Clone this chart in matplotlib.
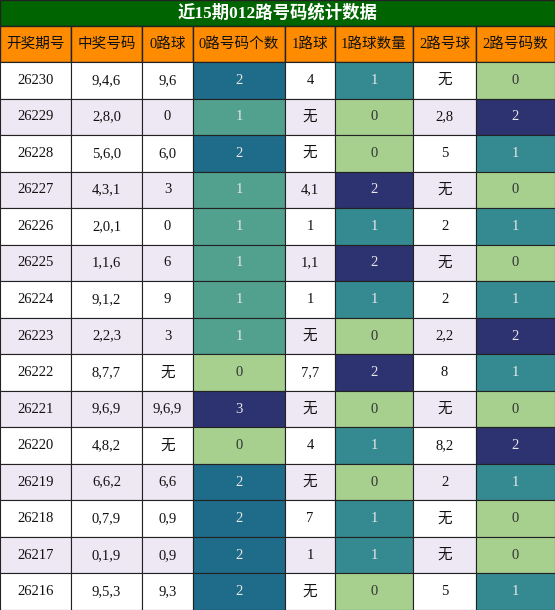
import matplotlib
matplotlib.use("Agg")
import matplotlib.pyplot as plt
from matplotlib.colors import LinearSegmentedColormap
from matplotlib.patches import Rectangle

plt.rcParams['font.family'] = ['Noto Sans CJK SC', 'DejaVu Sans']

title = "近15期012路号码统计数据"
headers = ["开奖期号", "中奖号码", "0路球", "0路号码个数", "1路球", "1路球数量", "2路号球", "2路号码数"]
issues = ["26230","26229","26228","26227","26226","26225","26224","26223","26222","26221","26220","26219","26218","26217","26216"]
numbers = ["9,4,6","2,8,0","5,6,0","4,3,1","2,0,1","1,1,6","9,1,2","2,2,3","8,7,7","9,6,9","4,8,2","6,6,2","0,7,9","0,1,9","9,5,3"]
road0 = ["9,6","0","6,0","3","0","6","9","3","无","9,6,9","无","6,6","0,9","0,9","9,3"]
count0 = [2,1,2,1,1,1,1,1,0,3,0,2,2,2,2]
road1 = ["4","无","无","4,1","1","1,1","1","无","7,7","无","4","无","7","1","无"]
count1 = [1,0,0,2,1,2,1,0,2,0,1,0,1,1,0]
road2 = ["无","2,8","5","无","2","无","2","2,2","8","无","8,2","2","无","无","5"]
count2 = [0,2,1,0,1,0,1,2,1,0,2,1,0,0,1]

W, H = 555, 610
fig = plt.figure(figsize=(W/100, H/100), dpi=100)
ax = fig.add_axes([0, 0, 1, 1])
ax.set_xlim(0, W); ax.set_ylim(H, 0); ax.axis('off')

cmap = LinearSegmentedColormap.from_list("c", [(0, "#A7D08F"), (0.333, "#52A08E"), (0.5, "#348A90"), (0.667, "#1F6B8A"), (1, "#2D3270")])
xs = [0, 71, 142, 193, 285, 335, 413, 476, 555]
title_h, head_h = 26, 36
top = title_h + head_h
rh = (H - top) / 15
lc = "#222222"

ax.add_patch(Rectangle((0, 0), W, title_h, facecolor="#006400", edgecolor=lc, lw=1))
ax.text(W/2, title_h/2, title, color="white", ha="center", va="center", fontsize=12.5, fontweight="bold",
        family=['Liberation Serif', 'Noto Sans CJK SC'])
for j, h in enumerate(headers):
    ax.add_patch(Rectangle((xs[j], title_h), xs[j+1]-xs[j], head_h, facecolor="#FF8C00", edgecolor=lc, lw=1))
    ax.text((xs[j]+xs[j+1])/2, title_h+head_h/2, h, ha="center", va="center", fontsize=10.5, color="#111111",
            family=['Liberation Serif', 'Noto Sans CJK SC'])

cols = [issues, numbers, road0, count0, road1, count1, road2, count2]
for i in range(15):
    y = top + i*rh
    bg = "white" if i % 2 == 0 else "#EEE8F5"
    for j, col in enumerate(cols):
        v = col[i]
        fc, tc = bg, "#111111"
        if j in (3, 5, 7):
            mx = max(col)
            fc = cmap(v/mx)
            tc = "#333333" if v == 0 else "#E8E8E8"
        ax.add_patch(Rectangle((xs[j], y), xs[j+1]-xs[j], rh, facecolor=fc, edgecolor=lc, lw=0.8))
        ax.text((xs[j]+xs[j+1])/2, y+rh/2, str(v), ha="center", va="center", fontsize=10.5, color=tc,
                family=['Liberation Serif', 'Noto Sans CJK SC'])

fig.savefig("out.png", dpi=100)
